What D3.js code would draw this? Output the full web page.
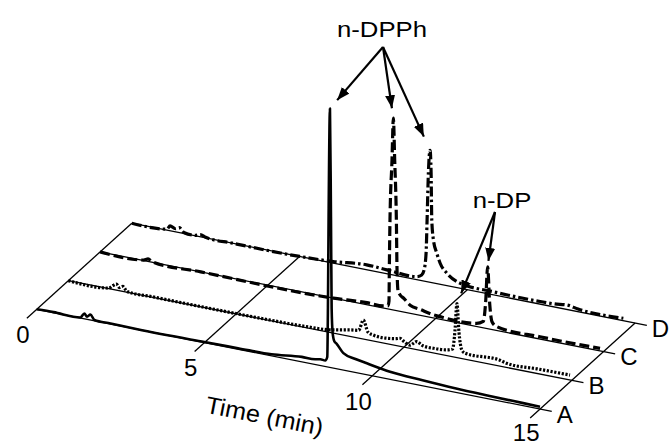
<!DOCTYPE html>
<html>
<head>
<meta charset="utf-8">
<script src="https://cdn.jsdelivr.net/npm/d3@7"></script>
<style>
  body { margin: 0; background: #fff; }
  svg { display: block; font-family: "Liberation Sans", Arial, sans-serif; }
</style>
</head>
<body>
<svg id="chart"></svg>
<script>
const width = 670;
const height = 446;

const seriesNames = ["A", "B", "C", "D"];
const timeTicks = [0, 5, 10, 15];

// [time (min), signal (a.u.)]
const traceA = [[0,0],[0.5,0.2],[1.3,0.2],[1.42,2.0],[1.5,1.0],[1.6,2.1],[1.72,0.3],[2.2,0.2],[3,0],[5,0.2],[6,0.4],[7,0.6],
  [7.9,1.9],[8.3,2.0],[8.45,2.4],[8.6,2.3],[8.66,3.8],[8.68,23],[8.7,58],[8.74,99.6],[8.77,58],[8.79,23],[8.82,13.5],
  [8.87,10.4],[8.94,9.6],[9.14,6.5],[9.5,5.2],[9.84,4.4],[10.53,2.9],[11.5,2.1],[12.5,1.5],[13.5,1.2],[14.5,1.0],[15,0.9]];
const traceB = [[0,0],[1.2,0.2],[1.33,1.5],[1.43,2.3],[1.52,1.2],[1.62,1.9],[1.75,0.3],[2.5,0.2],[6,0.2],[7,0.4],[7.88,1.2],
  [8.39,2.5],[8.65,3.0],[8.79,7.3],[8.93,3.0],[9.09,2.3],[9.49,2.1],[9.75,2.6],[9.88,3.1],[10.02,2.0],[10.18,1.2],[10.38,3.1],
  [10.55,2.0],[10.88,1.8],[11.28,2.2],[11.45,3.0],[11.52,10],[11.58,20.8],[11.64,10],[11.72,3.5],[11.82,2.3],[12.86,2.3],
  [13.06,1.6],[14,1.8],[14.95,1.9]];
const traceC = [[0,0],[1.3,0.2],[1.43,1.0],[1.55,0.2],[3,0],[6.95,0],[7.95,0.8],[8.44,0.8],[8.58,1.2],[8.61,3.1],[8.62,15.4],
  [8.64,34.6],[8.7,57.7],[8.74,73.8],[8.78,57.7],[8.83,34.6],[8.85,15.4],[8.88,7.7],[8.95,6.2],[9.04,5.4],[9.24,3.1],
  [9.53,2.3],[9.93,1.2],[10.13,1.0],[11.22,1.2],[11.42,2.5],[11.49,10],[11.55,23.8],[11.61,10],[11.68,3.0],[11.82,1.5],
  [13.11,0.9],[14.9,1.0]];
const traceD = [[0,0],[1.05,0.4],[1.14,1.9],[1.3,1.2],[1.42,1.9],[1.55,0.4],[1.9,0.2],[2.04,0.8],[2.2,0.2],[3,0],[5,0],
  [6,0.6],[7,1.9],[7.6,1.5],[8.5,1.2],[8.64,2.2],[8.71,4.2],[8.77,10.8],[8.8,23.5],[8.84,42.3],[8.89,50.8],[8.92,42.3],
  [8.94,24.2],[8.99,16.5],[9.09,11.7],[9.19,8.1],[9.39,4.8],[9.69,2.3],[9.79,1.9],[10.78,1.2],[12.17,1.0],[12.6,1.2],
  [12.97,1.7],[13.3,1.0],[14.65,0.9]];

const traces = [traceA, traceB, traceC, traceD];
const dashes = [null, "2.2,1.6", "10,4", "10,3,2.5,3"];

// label, label position, arrow start, [series, window start, window end, gap before peak]
const annotations = [
  { text: "n-DPPh", at: [382, 37], from: [383, 47], peaks: [[0, 8.5, 9, 11], [2, 8.5, 9, 10], [3, 8.5, 9.2, 15]] },
  { text: "n-DP", at: [502, 208], from: [495, 212], peaks: [[1, 11.3, 11.8, 11], [2, 11.3, 11.8, 6]] }
];

// oblique projection: time runs down-right, series step up-right, signal goes up
const origin = [36.7, 309.3];
const tx = d3.scaleLinear().domain([0, 15]).range([0, 503.3]);
const ty = d3.scaleLinear().domain([0, 15]).range([0, 99.75]);
const sx = d3.scaleLinear().domain([0, 3]).range([0, 95.1]);
const sy = d3.scaleLinear().domain([0, 3]).range([0, 86.1]);
const iy = d3.scaleLinear().domain([0, 100]).range([0, 260]);

const px = (t, s) => origin[0] + tx(t) + sx(s);
const py = (t, s, v = 0) => origin[1] + ty(t) - sy(s) - iy(v);

const svg = d3.select("#chart").attr("width", width).attr("height", height);

svg.append("defs").append("marker")
    .attr("id", "arrow")
    .attr("markerUnits", "userSpaceOnUse")
    .attr("markerWidth", 14).attr("markerHeight", 10)
    .attr("refX", 13).attr("refY", 5)
    .attr("orient", "auto")
  .append("path")
    .attr("d", "M0,0L13,5L0,10Z")
    .attr("fill", "#000");

// ---- floor: series baselines ----
const tEnd = 15.35;
svg.append("g").selectAll("line").data(seriesNames).join("line")
    .attr("x1", (d, i) => px(0, i)).attr("y1", (d, i) => py(0, i))
    .attr("x2", (d, i) => px(tEnd, i)).attr("y2", (d, i) => py(tEnd, i))
    .attr("stroke", "#000").attr("stroke-width", 1.3);

svg.append("g").selectAll("text").data(seriesNames).join("text")
    .attr("x", (d, i) => px(tEnd, i) + 5)
    .attr("y", (d, i) => py(tEnd, i) + 11.5)
    .attr("font-size", 24)
    .text(d => d);

// ---- time grid lines + ticks ----
const sLow = -0.31;
svg.append("g").selectAll("line").data(timeTicks).join("line")
    .attr("x1", d => px(d, sLow)).attr("y1", d => py(d, sLow))
    .attr("x2", d => px(d, 3)).attr("y2", d => py(d, 3))
    .attr("stroke", "#000").attr("stroke-width", 1.3);

svg.append("g").selectAll("text").data(timeTicks).join("text")
    .attr("x", d => px(d, sLow) - 4)
    .attr("y", d => Math.min(py(d, sLow) + 25, height - 5))
    .attr("text-anchor", "middle")
    .attr("font-size", 24)
    .text(d => d);

const angle = Math.atan2(ty(15), tx(15)) * 180 / Math.PI;
svg.append("text")
    .attr("transform", `translate(263,424) rotate(${angle}) scale(1.05,1)`)
    .attr("text-anchor", "middle")
    .attr("font-size", 24)
    .text("Time (min)");

// ---- chromatograms ----
traces.forEach((trace, s) => {
    const line = d3.line()
        .x(d => px(d[0], s))
        .y(d => py(d[0], s, d[1]))
        .curve(d3.curveMonotoneX);
    svg.append("path")
        .datum(trace)
        .attr("d", line)
        .attr("fill", "none")
        .attr("stroke", "#000")
        .attr("stroke-width", s === 0 ? 2.6 : 3.2)
        .attr("stroke-linejoin", "round")
        .attr("stroke-dasharray", dashes[s]);
});

// ---- peak annotations ----
annotations.forEach(a => {
    svg.append("text")
        .attr("transform", `translate(${a.at[0]},${a.at[1]}) scale(1.17,1)`)
        .attr("text-anchor", "middle")
        .attr("font-size", 22)
        .text(a.text);

    a.peaks.forEach(([s, t0, t1, gap]) => {
        const pts = traces[s].filter(d => d[0] >= t0 && d[0] <= t1);
        const top = pts.reduce((m, d) => d[1] > m[1] ? d : m);
        const x = px(top[0], s), y = py(top[0], s, top[1]);
        const dx = a.from[0] - x, dy = a.from[1] - y;
        const len = Math.hypot(dx, dy);
        svg.append("line")
            .attr("x1", a.from[0]).attr("y1", a.from[1])
            .attr("x2", x + dx / len * gap).attr("y2", y + dy / len * gap)
            .attr("stroke", "#000").attr("stroke-width", 2.2)
            .attr("marker-end", "url(#arrow)");
    });
});
</script>
</body>
</html>
